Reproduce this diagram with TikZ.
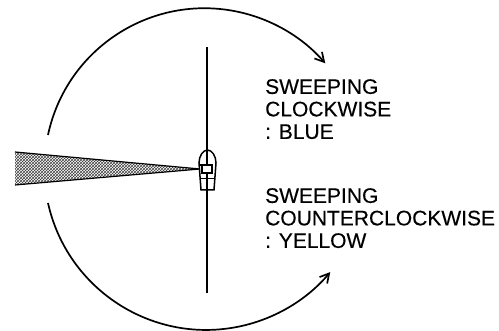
\documentclass[tikz,border=0pt]{standalone}
\usepackage{fontspec}
\setmainfont{Liberation Sans}
\usepackage{tikz}
\usetikzlibrary{arrows.meta,patterns}

\begin{document}
\begin{tikzpicture}[
  x=1pt, y=1pt,
  label/.style={align=left, anchor=north west, inner sep=0pt, font=\fontsize{21}{22.5}\selectfont\addfontfeature{FakeBold=0.3}},
  sweep/.style={line width=1.7pt, -{Straight Barb[length=9pt,width=10pt,line width=1.7pt]}},
  hull/.style={line width=1.5pt, fill=white}
]
\useasboundingbox (0,0) rectangle (499,331);

\coordinate (mastTop) at (207,284);
\coordinate (mastBottom) at (207,38);
\coordinate (upperStart) at (48,196);
\coordinate (lowerStart) at (48,128);
\coordinate (beamTip) at (200,162);
\coordinate (beamUp) at (15,179);
\coordinate (beamDown) at (15,146);

\draw[line width=1.2pt] (mastTop) -- (mastBottom);
\draw[sweep] (upperStart) arc[start angle=168, end angle=41, radius=160];
\draw[sweep] (lowerStart) arc[start angle=192.5, end angle=320, radius=162];

\path[pattern=crosshatch, pattern color=black!75] (beamUp) -- (beamTip) -- (beamDown) -- cycle;
\draw[line width=1.2pt] (beamDown) -- (beamTip) -- (beamUp);

% boat
\draw[hull] (201,141) -- (199,168) .. controls (199,175) and (203,181) .. (207.5,181)
  .. controls (212,181) and (216,175) .. (216,168) -- (214,141) -- cycle;
\draw[line width=1.5pt] (202,166) rectangle (212,158);
\draw[line width=1pt] (201,152) -- (214,152);
\draw[line width=1.2pt] (199,166) -- (202,166) (207,181) -- (207,166) (207,158) -- (207,141);

\node[label] (cw) at (265,252) {SWEEPING\\CLOCKWISE\\: BLUE};
\node[label] (ccw) at (265,143) {SWEEPING\\COUNTERCLOCKWISE\\: YELLOW};
\end{tikzpicture}
\end{document}
